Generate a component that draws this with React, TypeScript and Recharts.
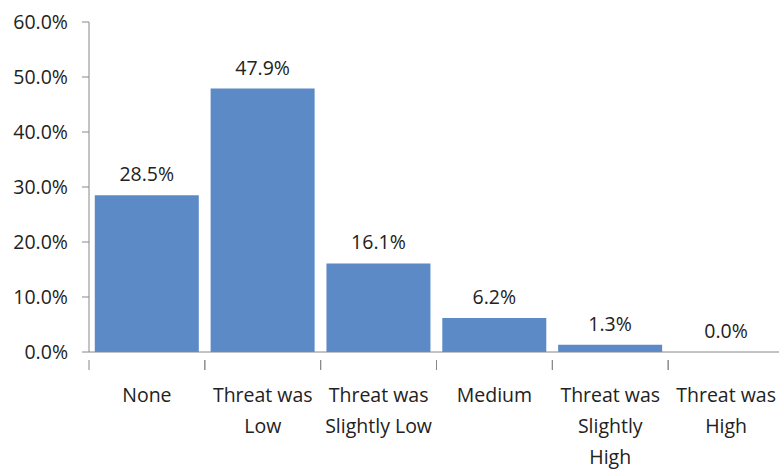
import React from "react";
import { BarChart, Bar, XAxis, YAxis, LabelList, ReferenceDot } from "recharts";

// Share of responses per perceived threat level (percent)
const categories = [
  "None",
  "Threat was Low",
  "Threat was Slightly Low",
  "Medium",
  "Threat was Slightly High",
  "Threat was High",
];
const shares = [28.5, 47.9, 16.1, 6.2, 1.3, 0.0];
const tickLines = [
  ["None"],
  ["Threat was", "Low"],
  ["Threat was", "Slightly Low"],
  ["Medium"],
  ["Threat was", "Slightly", "High"],
  ["Threat was", "High"],
];
const yTicks = [0, 10, 20, 30, 40, 50, 60];

const data = categories.map((name, i) => ({ name, value: shares[i] }));

const FONT = "'Open Sans', sans-serif";
const BAR = "#5B8AC6";
const AXIS = "#888888";
const TEXT = "#222222";

const CHART_W = 790;
const CHART_H = 471;
const MARGIN = { top: 22, right: 6, bottom: 0, left: 0 };
const Y_W = 89;
const BAND = (CHART_W - MARGIN.left - MARGIN.right - Y_W) / categories.length;

const pct = (v: any) => `${Number(v).toFixed(1)}%`;

function CategoryTick(props: any) {
  const { x, y, index } = props;
  const lines = tickLines[index] ?? [];
  const left = x - BAND / 2;
  return (
    <g>
      <line x1={left} y1={y} x2={left} y2={y + 10} stroke={AXIS} />
      <line x1={left + BAND} y1={y} x2={left + BAND} y2={y + 10} stroke={AXIS} />
      {lines.map((t: string, i: number) => (
        <text
          key={i}
          x={x}
          y={y + 42 + i * 31}
          textAnchor="middle"
          fontSize={19.5}
          fontFamily={FONT}
          fill={TEXT}
        >
          {t}
        </text>
      ))}
    </g>
  );
}

// zero-height bars get no rectangle, so their value label is drawn here
function ZeroLabel(props: any) {
  const { viewBox, value } = props;
  const cx = viewBox.x + (viewBox.width ?? 0) / 2;
  return (
    <text x={cx} y={viewBox.y - 14} textAnchor="middle" fontSize={19.5} fontFamily={FONT} fill={TEXT}>
      {value}
    </text>
  );
}

export default function App() {
  return (
    <div style={{ position: "absolute", left: 0, top: 0, width: 779, height: 471, overflow: "hidden", background: "#fff" }}>
      <BarChart width={CHART_W} height={CHART_H} data={data} margin={MARGIN} barCategoryGap="5%">
        <XAxis
          dataKey="name"
          axisLine={{ stroke: AXIS }}
          tickLine={false}
          tick={<CategoryTick />}
          interval={0}
          height={119}
        />
        <YAxis
          domain={[0, 60]}
          ticks={yTicks}
          width={Y_W}
          tickSize={7}
          tickMargin={14}
          axisLine={{ stroke: AXIS }}
          tickLine={{ stroke: AXIS }}
          tickFormatter={pct}
          tick={{ fontSize: 19.5, fontFamily: FONT, fill: TEXT }}
        />
        <Bar dataKey="value" fill={BAR} isAnimationActive={false}>
          <LabelList
            dataKey="value"
            position="top"
            offset={14}
            formatter={(v: any) => (Number(v) === 0 ? "" : pct(v))}
            style={{ fontSize: 19.5, fontFamily: FONT, fill: TEXT }}
          />
        </Bar>
        {data
          .filter((d) => d.value === 0)
          .map((d) => (
            <ReferenceDot
              key={d.name}
              x={d.name}
              y={d.value}
              r={0}
              stroke="none"
              fill="none"
              label={<ZeroLabel value={pct(d.value)} />}
            />
          ))}
      </BarChart>
    </div>
  );
}
